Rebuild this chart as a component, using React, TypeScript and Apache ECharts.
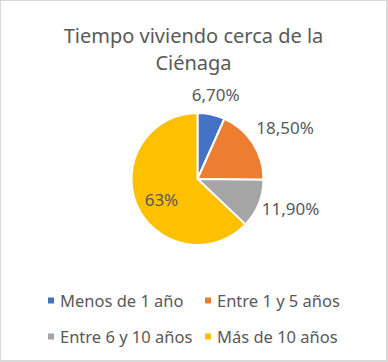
import React, { useEffect, useRef } from "react";
import * as echarts from "echarts";

const titleLines = ["Tiempo viviendo cerca de la", "Ciénaga"];
const categories = ["Menos de 1 año", "Entre 1 y 5 años", "Entre 6 y 10 años", "Más de 10 años"];
const values = [6.7, 18.5, 11.9, 63];
const valueLabels = ["6,70%", "18,50%", "11,90%", "63%"];
const colors = ["#4472C4", "#ED7D31", "#A5A5A5", "#FFC000"];

const FONT = "'Noto Sans', sans-serif";
const TEXT = "#595959";

export default function App() {
  const ref = useRef<HTMLDivElement>(null);
  useEffect(() => {
    document.body.style.margin = "0";
    const chart = echarts.init(ref.current!, null, { renderer: "svg" });
    const lineLens = [16, 32, 28, 0];
    const labelOffsets = [[-4, -4], [0, 1], [1, -6], [-3, 6]];
    const legendPos = [
      { left: 45, top: 291 },
      { left: 202, top: 291 },
      { left: 45, top: 327 },
      { left: 202, top: 327 },
    ];
    chart.setOption({
      animation: false,
      color: colors,
      title: {
        text: titleLines.join("\n"),
        left: "center",
        top: 16,
        textStyle: {
          fontFamily: FONT,
          fontSize: 20,
          fontWeight: "normal",
          color: TEXT,
          lineHeight: 27,
        },
      },
      legend: categories.map((c, i) => ({
        data: [c],
        left: legendPos[i].left,
        top: legendPos[i].top,
        icon: "rect",
        itemWidth: 8,
        itemHeight: 8,
        itemGap: 0,
        textStyle: { fontFamily: FONT, fontSize: 16.5, color: TEXT },
        padding: 0,
        selectedMode: false,
      })),
      series: [
        {
          type: "pie",
          center: [196.5, 178],
          radius: 66,
          startAngle: 90,
          clockwise: true,
          avoidLabelOverlap: false,
          itemStyle: { borderColor: "#fff", borderWidth: 2 },
          labelLayout: { align: "center" },
          data: categories.map((c, i) => ({
            name: c,
            value: values[i],
            itemStyle: { color: colors[i] },
            label: {
              position: i === 3 ? "inside" : "outside",
              offset: labelOffsets[i],
            },
            labelLine: { show: false, length: lineLens[i], length2: 0 },
          })),
          label: {
            formatter: (p: any) => valueLabels[p.dataIndex],
            fontFamily: FONT,
            fontSize: 17,
            color: TEXT,
            alignTo: "none",
          },
        },
      ],
    });
    return () => chart.dispose();
  }, []);
  return (
    <div
      style={{
        position: "absolute",
        left: 0,
        top: 0,
        width: 388,
        height: 362,
        boxSizing: "border-box",
        borderTop: "1px solid #D9D9D9",
        borderLeft: "1px solid #D9D9D9",
        borderRight: "2px solid #D9D9D9",
        borderBottom: "2px solid #D9D9D9",
        background: "#fff",
      }}
    >
      <div ref={ref} style={{ width: 385, height: 359 }} />
    </div>
  );
}
